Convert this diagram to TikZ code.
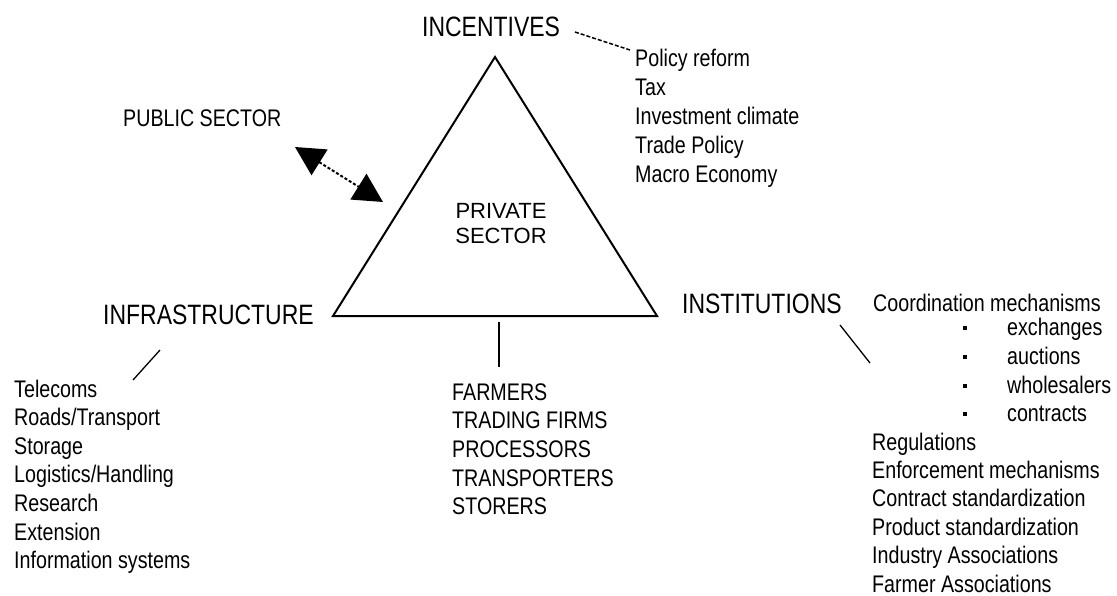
\documentclass[tikz,border=0pt]{standalone}
\usepackage{fontspec}
\setmainfont{Liberation Sans}
\newfontfamily\condfont[FakeStretch=0.82]{Liberation Sans}
\usetikzlibrary{arrows.meta}
\begin{document}
\begin{tikzpicture}[x=1pt,y=-1pt,
  biglabel/.style={font=\condfont\fontsize{28}{33}\selectfont, inner sep=0pt, anchor=base west},
  smalltext/.style={font=\condfont\fontsize{24}{28.6}\selectfont, inner sep=0pt, anchor=base west},
  midtext/.style={font=\fontsize{22}{26}\selectfont, inner sep=0pt, anchor=base},
  edge/.style={line width=2pt, line join=miter},
  leader/.style={line width=1.3pt},
  dashleader/.style={line width=1.5pt, dash pattern=on 4pt off 2pt},
  bulletdot/.style={fill=black, inner sep=0pt, minimum size=4pt, rectangle}
]
\fill[white] (0,0) rectangle (1117,596);
\useasboundingbox (0,0) rectangle (1117,596);

% triangle
\coordinate (apex) at (495,57);
\coordinate (tl) at (333,316);
\coordinate (tr) at (657,316);
\draw[edge] (apex) -- (tl) -- (tr) -- cycle;

% centre text
\node[midtext] (priv1) at (501,219) {PRIVATE};
\node[midtext] (priv2) at (501,244) {SECTOR};

% corner labels
\node[biglabel] (inc) at (422,37) {INCENTIVES};
\node[biglabel] (infra) at (103,324) {INFRASTRUCTURE};
\node[biglabel] (inst) at (682,313) {INSTITUTIONS};

% public sector
\node[smalltext] (pub) at (123,127) {PUBLIC SECTOR};
\coordinate (pubA) at (295,147);
\coordinate (pubB) at (383,202);
\draw[line width=2pt, dash pattern=on 3pt off 2pt,
  {Triangle[length=29pt,width=30pt]}-{Triangle[length=29pt,width=30pt]}] (pubA) -- (pubB);

% incentives list
\foreach \t [count=\i from 0] in {Policy reform, Tax, Investment climate, Trade Policy, Macro Economy}
  \node[smalltext] (incl\i) at (635, 67+29*\i) {\t};
\coordinate (incA) at (575,32);
\coordinate (incB) at (630,50);
\draw[dashleader] (incA) -- (incB);

% infrastructure list
\foreach \t [count=\i from 0] in {Telecoms, Roads/Transport, Storage, Logistics/Handling, Research, Extension, Information systems}
  \node[smalltext] (infl\i) at (14, 397+28.6*\i) {\t};
\coordinate (infA) at (160,350);
\coordinate (infB) at (133,380);
\draw[leader] (infA) -- (infB);

% private sector actors
\foreach \t [count=\i from 0] in {FARMERS, TRADING FIRMS, PROCESSORS, TRANSPORTERS, STORERS}
  \node[smalltext] (act\i) at (452, 400+28.7*\i) {\t};
\coordinate (vt) at (499,322);
\coordinate (vb) at (499,367);
\draw[edge] (vt) -- (vb);

% institutions
\node[smalltext] (coord) at (873,312) {Coordination mechanisms};
\foreach \t/\y [count=\i from 0] in {exchanges/335, auctions/364, wholesalers/393, contracts/421}{
  \node[bulletdot] (bul\i) at (965,\y-7) {};
  \node[smalltext] (mech\i) at (1007,\y) {\t};
}
\foreach \t [count=\i from 0] in {Regulations, Enforcement mechanisms, Contract standardization, Product standardization, Industry Associations, Farmer Associations}
  \node[smalltext] (instl\i) at (872, 450+28.4*\i) {\t};
\coordinate (insA) at (840,325);
\coordinate (insB) at (870,363);
\draw[leader] (insA) -- (insB);
\end{tikzpicture}
\end{document}
